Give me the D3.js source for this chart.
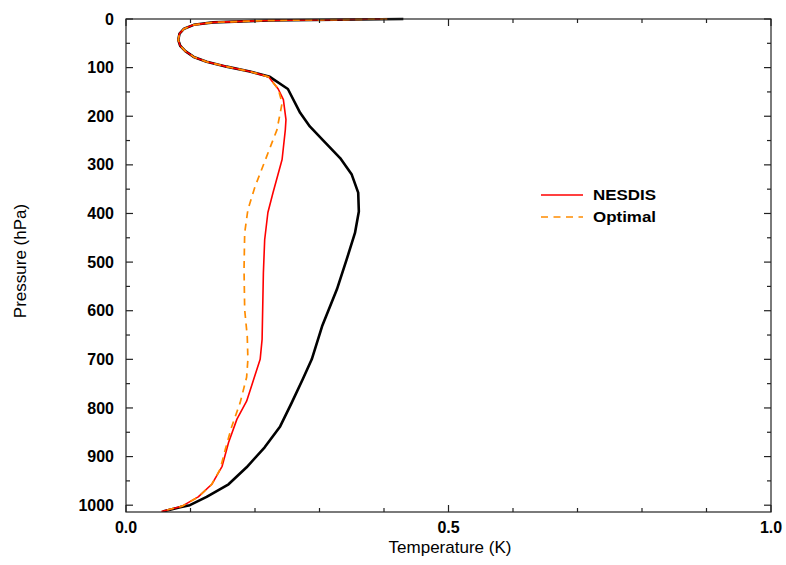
<!DOCTYPE html>
<html lang="en">
<head>
  <meta charset="UTF-8">
  <title>Temperature error profile</title>
  <script src="https://d3js.org/d3.v7.min.js"></script>
  <style>
    body {
      margin: 0;
      background: white;
      font-family: "Liberation Sans", Arial, sans-serif;
    }

    svg {
      display: block;
    }

    .tick-label {
      font-size: 16px;
      font-weight: bold;
      fill: black;
    }

    .axis-title {
      font-size: 17px;
      fill: black;
    }

    .legend text {
      font-size: 14.5px;
      font-weight: bold;
    }
  </style>
</head>

<body>
  <div id="chart"></div>
  <script>
    // black profile (no legend entry)
    const backgroundP = [0, 3, 7, 12, 20, 30, 43, 55, 66, 78, 88, 98, 108, 119, 144, 193, 221, 250, 286, 320, 357, 396, 440, 495, 556, 632, 700, 741, 789, 838, 881, 922, 957, 983, 1000, 1004, 1013];
    const backgroundT = [0.43, 0.22, 0.135, 0.105, 0.09, 0.083, 0.081, 0.084, 0.092, 0.105, 0.125, 0.156, 0.192, 0.223, 0.251, 0.27, 0.285, 0.306, 0.332, 0.35, 0.36, 0.361, 0.355, 0.342, 0.327, 0.304, 0.288, 0.274, 0.257, 0.239, 0.215, 0.187, 0.159, 0.125, 0.099, 0.084, 0.057];

    const nesdisP = [0, 3, 7, 12, 20, 30, 43, 55, 66, 78, 88, 98, 108, 119, 144, 166, 207, 228, 289, 357, 398, 454, 522, 659, 700, 741, 786, 823, 871, 920, 957, 983, 1002, 1013];
    const nesdisT = [0.405, 0.22, 0.135, 0.105, 0.09, 0.083, 0.081, 0.084, 0.092, 0.105, 0.125, 0.156, 0.192, 0.221, 0.236, 0.244, 0.248, 0.247, 0.242, 0.228, 0.22, 0.215, 0.213, 0.211, 0.208, 0.198, 0.187, 0.172, 0.159, 0.149, 0.133, 0.112, 0.087, 0.055];

    const optimalP = [0, 3, 7, 12, 20, 30, 43, 55, 66, 78, 88, 98, 108, 119, 144, 173, 187, 228, 283, 345, 392, 440, 515, 598, 653, 700, 737, 789, 838, 885, 926, 957, 983, 1002, 1013];
    const optimalT = [0.405, 0.22, 0.135, 0.105, 0.09, 0.083, 0.081, 0.084, 0.092, 0.105, 0.125, 0.156, 0.192, 0.221, 0.236, 0.242, 0.24, 0.234, 0.218, 0.2, 0.189, 0.184, 0.183, 0.184, 0.188, 0.189, 0.187, 0.177, 0.164, 0.154, 0.146, 0.133, 0.112, 0.087, 0.055];

    const xTickLabels = [0.0, 0.5, 1.0];
    const yTickLabels = [0, 100, 200, 300, 400, 500, 600, 700, 800, 900, 1000];
    const legendNames = ["NESDIS", "Optimal"];

    const width = 786,
          height = 565,
          margin = { top: 19, right: 15, bottom: 53, left: 126 };

    const svg = d3.select("#chart")
      .append("svg")
      .attr("width", width)
      .attr("height", height);

    const x = d3.scaleLinear()
      .domain([0, 1])
      .range([margin.left, width - margin.right]);

    const y = d3.scaleLinear()
      .domain([0, 1014])
      .range([margin.top, height - margin.bottom]);

    const x0 = x.range()[0], x1 = x.range()[1];
    const y0 = y.range()[0], y1 = y.range()[1];

    // curves, clipped to the frame
    svg.append("clipPath")
      .attr("id", "frame-clip")
      .append("rect")
      .attr("x", x0)
      .attr("y", y0 - 3)
      .attr("width", x1 - x0 + 3)
      .attr("height", y1 - y0 + 3);

    const line = d3.line()
      .x(d => x(d[0]))
      .y(d => y(d[1]));

    const series = [
      { t: backgroundT, p: backgroundP, color: "black", width: 2.6, dash: null },
      { t: nesdisT, p: nesdisP, color: "#ff0000", width: 1.6, dash: null },
      { t: optimalT, p: optimalP, color: "#ff8c00", width: 1.7, dash: "7,5.5" }
    ];

    const plot = svg.append("g").attr("clip-path", "url(#frame-clip)");

    plot.selectAll("path")
      .data(series)
      .enter().append("path")
      .attr("fill", "none")
      .attr("stroke", d => d.color)
      .attr("stroke-width", d => d.width)
      .attr("stroke-dasharray", d => d.dash)
      .attr("stroke-linejoin", "round")
      .attr("d", d => line(d.t.map((v, i) => [v, d.p[i]])));

    // frame
    svg.append("rect")
      .attr("x", x0)
      .attr("y", y0)
      .attr("width", x1 - x0)
      .attr("height", y1 - y0)
      .attr("fill", "none")
      .attr("stroke", "#222")
      .attr("stroke-width", 1.2);

    // inward ticks on all four sides
    const ticks = svg.append("g").attr("stroke", "#222").attr("stroke-width", 1.2);
    const xMinor = d3.range(1, 10).map(i => i / 10).filter(v => v !== 0.5);
    const yMinor = d3.range(50, 1001, 100);

    xTickLabels.concat(xMinor).forEach(v => {
      const len = xTickLabels.includes(v) ? 7 : 4;
      ticks.append("line").attr("x1", x(v)).attr("x2", x(v)).attr("y1", y1).attr("y2", y1 - len);
      ticks.append("line").attr("x1", x(v)).attr("x2", x(v)).attr("y1", y0).attr("y2", y0 + len);
    });

    yTickLabels.concat(yMinor).forEach(v => {
      const len = yTickLabels.includes(v) ? 7 : 4;
      ticks.append("line").attr("x1", x0).attr("x2", x0 + len).attr("y1", y(v)).attr("y2", y(v));
      ticks.append("line").attr("x1", x1).attr("x2", x1 - len).attr("y1", y(v)).attr("y2", y(v));
    });

    // tick labels
    svg.append("g").selectAll("text")
      .data(xTickLabels)
      .enter().append("text")
      .attr("class", "tick-label")
      .attr("x", d => x(d))
      .attr("y", y1 + 21)
      .attr("text-anchor", "middle")
      .text(d => d.toFixed(1));

    svg.append("g").selectAll("text")
      .data(yTickLabels)
      .enter().append("text")
      .attr("class", "tick-label")
      .attr("x", x0 - 12)
      .attr("y", d => y(d))
      .attr("dy", "0.35em")
      .attr("text-anchor", "end")
      .text(d => d);

    // axis titles
    svg.append("text")
      .attr("class", "axis-title")
      .attr("x", 450)
      .attr("y", 553)
      .attr("text-anchor", "middle")
      .text("Temperature (K)");

    svg.append("text")
      .attr("class", "axis-title")
      .attr("transform", "translate(26,261) rotate(-90)")
      .attr("text-anchor", "middle")
      .text("Pressure (hPa)");

    // legend
    const legend = svg.append("g").attr("class", "legend");
    legendNames.forEach((name, i) => {
      const s = series[i + 1];
      const ly = 195 + i * 22;
      legend.append("line")
        .attr("x1", 541).attr("x2", 583)
        .attr("y1", ly).attr("y2", ly)
        .attr("stroke", s.color)
        .attr("stroke-width", s.width)
        .attr("stroke-dasharray", s.dash);
      legend.append("text")
        .attr("x", 593)
        .attr("y", ly)
        .attr("dy", "0.35em")
        .attr("textLength", 63)
        .attr("lengthAdjust", "spacingAndGlyphs")
        .text(name);
    });
  </script>
</body>
</html>
